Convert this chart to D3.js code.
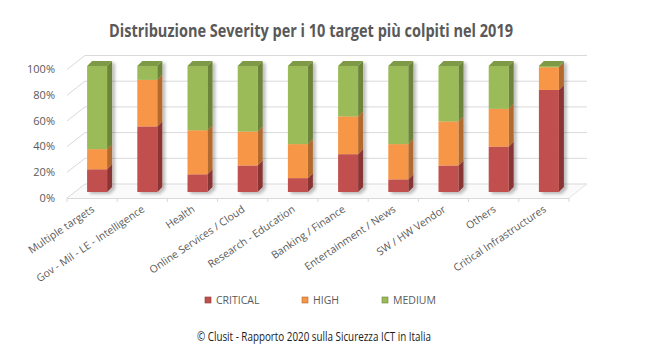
<!DOCTYPE html>
<html>
<head>
<meta charset="utf-8">
<script src="https://cdn.jsdelivr.net/npm/d3@7"></script>
<style>
  body { margin: 0; background: #fff; }
  svg { display: block; font-family: 'Open Sans', 'Noto Sans', sans-serif; }
</style>
</head>
<body>
<div id="chart"></div>
<script>
const categories = ['Multiple targets', 'Gov - Mil - LE - Intelligence', 'Health', 'Online Services / Cloud',
  'Research - Education', 'Banking / Finance', 'Entertainment / News', 'SW / HW Vendor', 'Others',
  'Critical Infrastructures'];
const critical = [18, 52, 14, 21, 11, 30, 10, 21, 36, 81];
const high = [16, 37, 35, 27, 27, 30, 28, 35, 30, 18];
const medium = [66, 11, 51, 52, 62, 40, 62, 44, 34, 1];
const yTicks = [0, 20, 40, 60, 80, 100];
const seriesNames = ['CRITICAL', 'HIGH', 'MEDIUM'];

const W = 649, H = 354;
const front = { l: 67, r: 569, y0: 198 };   // front edge of the floor
const depth = { dx: 18, dy: -14 };          // floor depth
const bar3d = { dx: 5, dy: -5 };            // bar side depth

const colors = {
  CRITICAL: { front: '#C0504D', side: '#8A3634', top: '#A3403E' },
  HIGH: { front: '#F79646', side: '#B36A2E', top: '#D57D36' },
  MEDIUM: { front: '#9BBB59', side: '#6D843B', top: '#7E9A47' }
};

const svg = d3.select('#chart').append('svg').attr('width', W).attr('height', H);

const defs = svg.append('defs');
const f = defs.append('filter').attr('id', 'shadow').attr('x', '-50%').attr('y', '-50%').attr('width', '200%').attr('height', '200%');
f.append('feGaussianBlur').attr('in', 'SourceAlpha').attr('stdDeviation', 1.5);
f.append('feOffset').attr('dx', 3).attr('dy', 2).attr('result', 'b');
f.append('feComponentTransfer').append('feFuncA').attr('type', 'linear').attr('slope', 0.25);
const fm = f.append('feMerge');
fm.append('feMergeNode');
fm.append('feMergeNode').attr('in', 'SourceGraphic');

// title
svg.append('text')
  .attr('x', 311).attr('y', 37)
  .attr('text-anchor', 'middle')
  .attr('textLength', 404).attr('lengthAdjust', 'spacingAndGlyphs')
  .style('font-size', '18px').style('font-weight', 'bold').style('fill', '#595959')
  .text('Distribuzione Severity per i 10 target più colpiti nel 2019');

const x = d3.scaleBand().domain(categories).range([front.l, front.r]).padding(0);
const yLab = d3.scaleLinear().domain([0, 100]).range([front.y0, front.y0 - 128.5]);
const yBar = d3.scaleLinear().domain([0, 100]).range([192, 66]);

// floor
svg.append('path')
  .attr('d', `M${front.l},${front.y0}L${front.r},${front.y0}L${front.r + depth.dx},${front.y0 + depth.dy}L${front.l + depth.dx},${front.y0 + depth.dy}Z`)
  .attr('fill', '#FAFAFA').attr('stroke', 'none');

// gridlines: left wall diagonals + back wall
const grid = svg.append('g').attr('stroke', '#D9D9D9').attr('fill', 'none');
yTicks.forEach(t => {
  const yy = yLab(t);
  grid.append('line').attr('x1', front.l).attr('y1', yy).attr('x2', front.l + depth.dx).attr('y2', yy + depth.dy);
  grid.append('line').attr('x1', front.l + depth.dx).attr('y1', yy + depth.dy).attr('x2', front.r + depth.dx).attr('y2', yy + depth.dy);
});

// front floor edge axis
svg.append('g')
  .attr('transform', `translate(0,${front.y0})`)
  .call(d3.axisBottom(x).tickSizeOuter(0).tickSize(0).tickFormat(''))
  .call(g => g.select('.domain').attr('stroke', '#D9D9D9'));
const edges = x.domain().map(d => x(d)).concat([front.r]);
svg.append('g').selectAll('line').data(edges).enter().append('line')
  .attr('x1', d => d).attr('x2', d => d).attr('y1', front.y0).attr('y2', front.y0 + 4)
  .attr('stroke', '#D9D9D9');
svg.append('line')
  .attr('x1', front.r).attr('y1', front.y0).attr('x2', front.r + depth.dx).attr('y2', front.y0 + depth.dy)
  .attr('stroke', '#E6E6E6');

// y labels
svg.append('g').selectAll('text').data(yTicks).enter().append('text')
  .attr('x', 55).attr('y', d => yLab(d)).attr('dy', '0.35em')
  .attr('text-anchor', 'end')
  .style('font-size', '11px').style('fill', '#595959')
  .text(d => d + '%');

// bars
const rows = categories.map((c, i) => ({ cat: c, CRITICAL: critical[i], HIGH: high[i], MEDIUM: medium[i] }));
const stack = d3.stack().keys(seriesNames)(rows);
const bw = 20;
const barX = c => x(c) + x.bandwidth() / 2 - bw / 2 + 5;

const bars = svg.append('g').selectAll('g.bar').data(rows).enter().append('g')
  .attr('class', 'bar').attr('filter', 'url(#shadow)');

bars.each(function (row, i) {
  const g = d3.select(this);
  const fx = barX(row.cat);
  stack.forEach((s, k) => {
    const seg = s[i];
    const c = colors[s.key];
    const yt = yBar(seg[1]), yb = yBar(seg[0]);
    if (seg[1] - seg[0] <= 0) return;
    g.append('path')
      .attr('d', `M${fx + bw},${yt}L${fx + bw + bar3d.dx},${yt + bar3d.dy}L${fx + bw + bar3d.dx},${yb + bar3d.dy}L${fx + bw},${yb}Z`)
      .attr('fill', c.side);
    g.append('rect')
      .attr('x', fx).attr('y', yt).attr('width', bw).attr('height', yb - yt)
      .attr('fill', c.front);
    if (k === stack.length - 1) {
      g.append('path')
        .attr('d', `M${fx},${yt}L${fx + bar3d.dx},${yt + bar3d.dy}L${fx + bw + bar3d.dx},${yt + bar3d.dy}L${fx + bw},${yt}Z`)
        .attr('fill', c.top);
    }
  });
});

// x labels
svg.append('g').selectAll('text').data(categories).enter().append('text')
  .attr('transform', d => `translate(${x(d) + x.bandwidth() / 2 + 3},${front.y0 + 13}) rotate(-34)`)
  .attr('text-anchor', 'end')
  .style('font-size', '10.5px').style('fill', '#595959')
  .text(d => d);

// legend
const legX = [205, 302, 382];
const leg = svg.append('g').selectAll('g').data(seriesNames).enter().append('g')
  .attr('transform', (d, i) => `translate(${legX[i]},300)`);
leg.append('rect').attr('x', 0).attr('y', -3).attr('width', 6).attr('height', 6)
  .attr('fill', d => colors[d].front).attr('stroke', d => colors[d].side).attr('stroke-width', 0.6);
leg.append('text').attr('x', 11).attr('y', 0).attr('dy', '0.35em')
  .style('font-size', '10.5px').style('fill', '#595959')
  .text(d => d);

// footer
svg.append('text')
  .attr('x', 197).attr('y', 341)
  .attr('textLength', 234).attr('lengthAdjust', 'spacingAndGlyphs')
  .style('font-size', '12px').style('fill', '#1a1a1a')
  .text('© Clusit - Rapporto 2020 sulla Sicurezza ICT in Italia');
</script>
</body>
</html>
